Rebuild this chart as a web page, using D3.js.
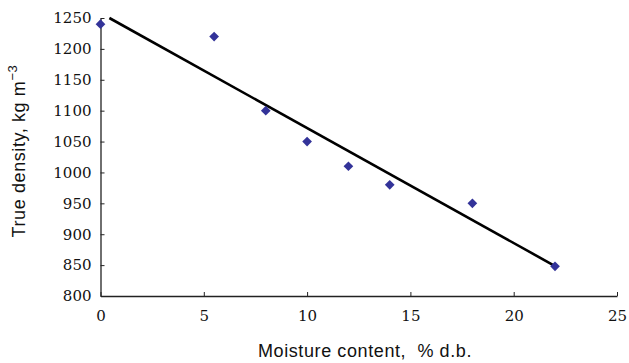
<!DOCTYPE html>
<html>
<head>
<meta charset="utf-8">
<script src="https://cdn.jsdelivr.net/npm/d3@7"></script>
<style>
  body { margin: 0; background: #fff; }
  .axis-title { font-family: "Liberation Sans", Arial, sans-serif; font-size: 18px; letter-spacing: 0.6px; fill: #111; white-space: pre; }
</style>
</head>
<body>
<div class="svg-frame" style="width:629px;height:363px"></div>
<script>
// data
const moisture = [0, 5.5, 8, 10, 12, 14, 18, 22]
const density = [1240, 1220, 1100, 1050, 1010, 980, 950, 848]
const xTicks = [0, 5, 10, 15, 20, 25]
const yTicks = [800, 850, 900, 950, 1000, 1050, 1100, 1150, 1200, 1250]

function drawViz() {
  const frameWidth = 629
  const frameHeight = 363
  const svg = d3.select(".svg-frame")
    .append("svg")
    .attr("width", frameWidth)
    .attr("height", frameHeight)

  const margin = { top: 18, right: 12, bottom: 67, left: 100.5 }
  const xScale = d3.scaleLinear([0, 25], [margin.left, frameWidth - margin.right])
  const yScale = d3.scaleLinear([800, 1250], [frameHeight - margin.bottom, margin.top])

  //axes
  const xAxis = d3.axisBottom(xScale).tickValues(xTicks).tickFormat(d3.format("d"))
    .tickSizeInner(-4).tickSizeOuter(0).tickPadding(14)
  const yAxis = d3.axisLeft(yScale).tickValues(yTicks).tickFormat(d3.format("d"))
    .tickSizeInner(-4).tickSizeOuter(0).tickPadding(9)

  const gx = svg.append("g")
    .attr("transform", `translate(0,${yScale(800)})`)
    .call(xAxis)
  const gy = svg.append("g")
    .attr("transform", `translate(${xScale(0)},0)`)
    .call(yAxis)
  svg.selectAll(".domain").attr("stroke", "#222").attr("stroke-width", 1.3)
  svg.selectAll(".tick line").attr("stroke", "#222").attr("stroke-width", 1)
  svg.selectAll(".tick text")
    .attr("font-family", "'DejaVu Serif', 'Liberation Serif', serif")
    .attr("font-size", 15)
    .attr("fill", "#111")

  //linear trend line, least squares
  const mx = d3.mean(moisture)
  const my = d3.mean(density)
  const sxy = d3.sum(moisture, (x, i) => (x - mx) * (density[i] - my))
  const sxx = d3.sum(moisture, x => (x - mx) * (x - mx))
  const slope = sxy / sxx
  const intercept = my - slope * mx
  const yMax = yScale.domain()[1]
  const xStart = Math.max(d3.min(moisture), (yMax - intercept) / slope)
  const xEnd = d3.max(moisture)
  svg.append("line")
    .attr("x1", xScale(xStart))
    .attr("y1", yScale(intercept + slope * xStart))
    .attr("x2", xScale(xEnd))
    .attr("y2", yScale(intercept + slope * xEnd))
    .attr("stroke", "#000")
    .attr("stroke-width", 2.6)

  //markers
  const diamond = d3.symbol().type(d3.symbolDiamond2).size(60)
  svg.selectAll("path.data-point")
    .data(moisture.map((x, i) => ({ x, y: density[i] })))
    .join("path")
      .attr("class", "data-point")
      .attr("d", diamond)
      .attr("transform", d => `translate(${xScale(d.x)},${yScale(d.y)})`)
      .attr("fill", "#333399")

  //axis titles
  svg.append("text")
    .attr("class", "axis-title")
    .attr("x", 365)
    .attr("y", 357)
    .attr("text-anchor", "middle")
    .text("Moisture content,  % d.b.")

  const yt = svg.append("text")
    .attr("class", "axis-title")
    .attr("text-anchor", "middle")
    .attr("transform", "translate(25,151) rotate(-90)")
  yt.append("tspan").text("True density, kg m")
  yt.append("tspan").attr("dy", -8).attr("font-size", 13).text("\u22123")
}

drawViz()
</script>
</body>
</html>
